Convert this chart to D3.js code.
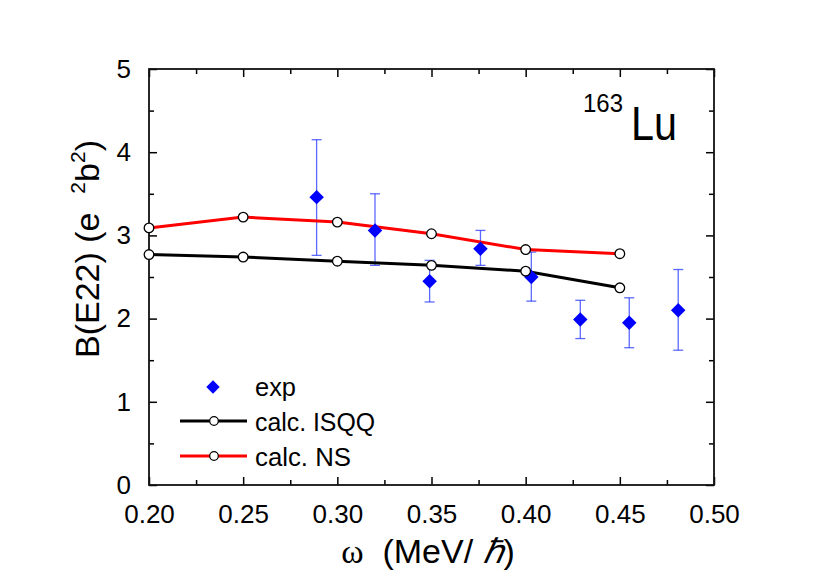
<!DOCTYPE html>
<html>
<head>
<meta charset="utf-8">
<script src="https://cdn.jsdelivr.net/npm/d3@7"></script>
<style>
  body { margin: 0; background: #fff; }
  text { font-family: "Liberation Sans", Arial, Helvetica, sans-serif; }
</style>
</head>
<body>
<svg id="chart" width="830" height="583"></svg>
<script>
// ---- data ----
const calcOmega = [0.20, 0.25, 0.30, 0.35, 0.40, 0.45];
const isqqValues = [2.77, 2.74, 2.69, 2.64, 2.57, 2.37];
const nsValues = [3.09, 3.22, 3.16, 3.02, 2.83, 2.78];
const expOmega = [0.289, 0.320, 0.349, 0.376, 0.403, 0.429, 0.455, 0.481];
const expValues = [3.46, 3.06, 2.45, 2.84, 2.50, 1.99, 1.95, 2.10];
const expErrLow = [2.76, 2.64, 2.20, 2.64, 2.21, 1.76, 1.65, 1.62];
const expErrHigh = [4.15, 3.50, 2.70, 3.06, 2.80, 2.22, 2.25, 2.59];
const xTicks = [0.20, 0.25, 0.30, 0.35, 0.40, 0.45, 0.50];
const xMinorTicks = [0.225, 0.275, 0.325, 0.375, 0.425, 0.475];
const yTicks = [0, 1, 2, 3, 4, 5];
const yMinorTicks = [0.5, 1.5, 2.5, 3.5, 4.5];

const svg = d3.select("#chart");
const L = 149, R = 714, T = 69, B = 485;
const x = d3.scaleLinear().domain([0.20, 0.50]).range([L, R]);
const y = d3.scaleLinear().domain([0, 5]).range([B, T]);

// ---- axes with inward ticks on all four sides ----
const major = 8, minor = 5;
function addAxis(axisGen, tr) {
  const g = svg.append("g").attr("transform", tr).call(axisGen);
  g.select(".domain").remove();
  g.selectAll(".tick line").attr("stroke", "#000").attr("stroke-width", 1.5);
  return g;
}
// bottom
const gxb = addAxis(d3.axisBottom(x).tickValues(xTicks).tickSize(-major).tickPadding(major + 12).tickFormat(d3.format(".2f")), `translate(0,${B})`);
gxb.selectAll("text").attr("font-size", 26).attr("fill", "#000");
addAxis(d3.axisBottom(x).tickValues(xMinorTicks).tickSize(-minor).tickFormat(""), `translate(0,${B})`);
// top
addAxis(d3.axisTop(x).tickValues(xTicks).tickSize(-major).tickFormat(""), `translate(0,${T})`);
addAxis(d3.axisTop(x).tickValues(xMinorTicks).tickSize(-minor).tickFormat(""), `translate(0,${T})`);
// left
const gyl = addAxis(d3.axisLeft(y).tickValues(yTicks).tickSize(-major).tickPadding(major + 10).tickFormat(d3.format("d")), `translate(${L},0)`);
gyl.selectAll("text").attr("font-size", 26).attr("fill", "#000");
addAxis(d3.axisLeft(y).tickValues(yMinorTicks).tickSize(-minor).tickFormat(""), `translate(${L},0)`);
// right
addAxis(d3.axisRight(y).tickValues(yTicks).tickSize(-major).tickFormat(""), `translate(${R},0)`);
addAxis(d3.axisRight(y).tickValues(yMinorTicks).tickSize(-minor).tickFormat(""), `translate(${R},0)`);

// frame
svg.append("rect").attr("x", L).attr("y", T).attr("width", R - L).attr("height", B - T)
  .attr("fill", "none").attr("stroke", "#111").attr("stroke-width", 1.8);

// ---- calc lines ----
const line = d3.line().x(d => x(d[0])).y(d => y(d[1]));
const isqq = calcOmega.map((w, i) => [w, isqqValues[i]]);
const ns = calcOmega.map((w, i) => [w, nsValues[i]]);

// error bars
const expData = expOmega.map((w, i) => ({ w, v: expValues[i], lo: expErrLow[i], hi: expErrHigh[i] }));
const eb = svg.append("g").attr("stroke", "#3344ff").attr("stroke-opacity", 0.8).attr("stroke-width", 1.3);
expData.forEach(d => {
  eb.append("line").attr("x1", x(d.w)).attr("x2", x(d.w)).attr("y1", y(d.lo)).attr("y2", y(d.hi));
  eb.append("line").attr("x1", x(d.w) - 5).attr("x2", x(d.w) + 5).attr("y1", y(d.lo)).attr("y2", y(d.lo));
  eb.append("line").attr("x1", x(d.w) - 5).attr("x2", x(d.w) + 5).attr("y1", y(d.hi)).attr("y2", y(d.hi));
});

svg.append("path").datum(isqq).attr("d", line).attr("fill", "none").attr("stroke", "#000").attr("stroke-width", 3);
svg.append("path").datum(ns).attr("d", line).attr("fill", "none").attr("stroke", "#ff0000").attr("stroke-width", 3);

// diamonds
const diamond = d3.symbol().type(d3.symbolSquare).size(105);
svg.append("g").selectAll("path").data(expData).join("path")
  .attr("d", diamond)
  .attr("transform", d => `translate(${x(d.w)},${y(d.v)}) rotate(45)`)
  .attr("fill", "#0000ff");

// open circles
[isqq, ns].forEach(s => {
  svg.append("g").selectAll("circle").data(s).join("circle")
    .attr("cx", d => x(d[0])).attr("cy", d => y(d[1])).attr("r", 4.8)
    .attr("fill", "#fff").attr("stroke", "#000").attr("stroke-width", 1.3);
});

// ---- legend ----
const lg = svg.append("g");
lg.append("path").attr("d", d3.symbol().type(d3.symbolSquare).size(90)).attr("transform", "translate(213,387) rotate(45)").attr("fill", "#0000ff");
lg.append("text").attr("x", 255).attr("y", 396).attr("font-size", 26).attr("textLength", 41).attr("lengthAdjust", "spacingAndGlyphs").text("exp");
[["#000", 421, "calc. ISQQ", 120], ["#ff0000", 456, "calc. NS", 96]].forEach(([c, yy, t, tl]) => {
  lg.append("line").attr("x1", 180).attr("x2", 247).attr("y1", yy).attr("y2", yy).attr("stroke", c).attr("stroke-width", 3);
  lg.append("circle").attr("cx", 214).attr("cy", yy).attr("r", 4.3).attr("fill", "#fff").attr("stroke", "#000").attr("stroke-width", 1.2);
  lg.append("text").attr("x", 255).attr("y", yy + 10).attr("font-size", 26).attr("textLength", tl).attr("lengthAdjust", "spacingAndGlyphs").text(t);
});

// ---- nucleus label ----
svg.append("text").attr("x", 583).attr("y", 112).attr("font-size", 26).attr("textLength", 40).attr("lengthAdjust", "spacingAndGlyphs").text("163");
svg.append("text").attr("x", 631).attr("y", 140).attr("font-size", 48).attr("textLength", 46).attr("lengthAdjust", "spacingAndGlyphs").text("Lu");

// ---- axis titles ----
const xt = svg.append("text").attr("x", 428).attr("y", 563).attr("text-anchor", "middle").attr("font-size", 34);
xt.append("tspan").attr("font-family", "Liberation Serif, Times New Roman, serif").text("ω");
xt.append("tspan").text("\u00a0 (MeV/\u00a0");
xt.append("tspan").attr("font-family", "Liberation Serif, Times New Roman, serif").attr("font-style", "italic").text("ℏ");
xt.append("tspan").text(")");

const yt = svg.append("text").attr("transform", "translate(99,249) rotate(-90)").attr("text-anchor", "middle").attr("font-size", 34);
yt.append("tspan").text("B(E22) (e\u00a0\u00a0");
yt.append("tspan").attr("font-size", 21).attr("dy", -14).text("2");
yt.append("tspan").attr("dy", 14).text("b");
yt.append("tspan").attr("font-size", 21).attr("dy", -14).text("2");
yt.append("tspan").attr("dy", 14).text(")");
</script>
</body>
</html>
